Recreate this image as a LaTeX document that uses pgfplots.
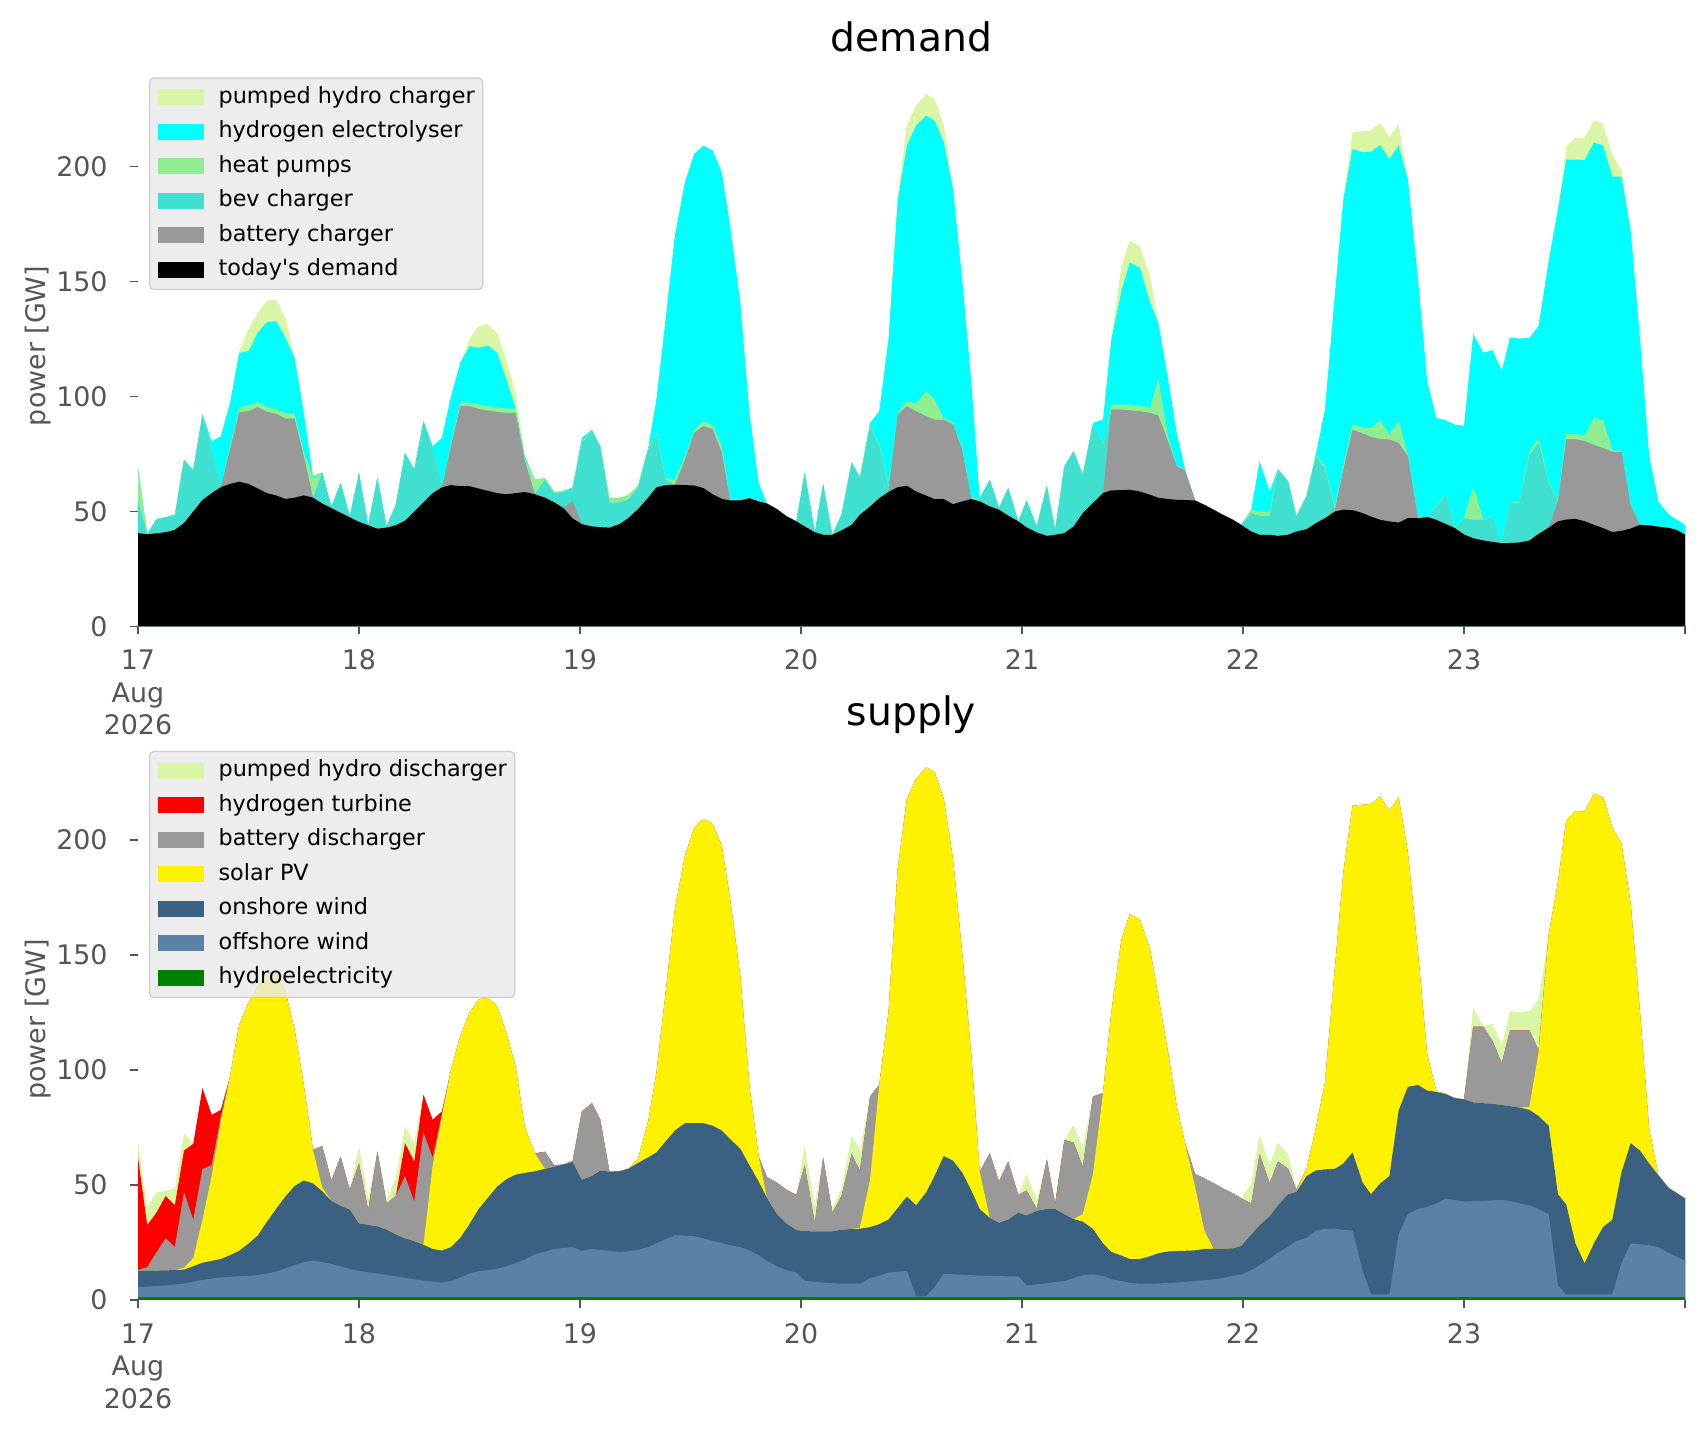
\documentclass[border=0pt]{standalone}
\usepackage{fontspec}
\setmainfont{DejaVu Sans}[Ligatures=TeXOff]
\usepackage{pgfplots}
\usepackage{pgfplotstable}
\pgfplotsset{compat=1.18}

\definecolor{phs}{HTML}{D9F5A6}
\definecolor{ely}{HTML}{00FFFF}
\definecolor{hpc}{HTML}{90EE90}
\definecolor{bevc}{HTML}{40E0D0}
\definecolor{batc}{HTML}{999999}
\definecolor{onw}{HTML}{3B6182}
\definecolor{offw}{HTML}{5B82A6}
\definecolor{hydc}{HTML}{008000}
\definecolor{tickc}{HTML}{555555}
\definecolor{legbg}{HTML}{E8E8E8}
\definecolor{legedge}{HTML}{CCCCCC}

\pgfplotstableread{
h D B V P E T hy of on so ba h2
0 40.6 40.6 55 69 69 69 1.3 5.6 12.7 12.7 13 62
1 40.1 40.1 40.1 40.1 40.1 40.1 1.3 5.8 12.7 12.7 14.3 32.5
2 40.5 40.5 46.7 46.7 46.7 46.7 1.3 6.1 12.8 12.8 20.6 38
3 41 41 47.5 47.5 47.5 47.5 1.3 6.3 12.9 12.9 26.9 45.2
4 42 42 48.6 48.6 48.6 48.6 1.3 6.7 13 13 23 41.2
5 45 45 72.5 72.5 72.5 72.5 1.3 7.1 13.2 14 46.8 65
6 50 50 67.9 67.9 67.9 67.9 1.3 8 14.7 18.2 34.9 67.9
7 55 55 92.2 92.2 92.2 92.2 1.3 8.7 16.2 34.9 57 92.2
8 58 58 77 77 80.5 80.5 1.3 9.3 17 54 58.6 80.5
9 60.6 60.6 60.6 60.6 82.7 82.7 1.3 9.8 17.8 77.7 80 82.7
10 62 77 77 78.5 97.3 97.3 1.3 10 19.5 97.3 97.3 97.3
11 63 93.2 93.2 95.4 119 119.8 1.3 10.3 21.4 119.8 119.8 119.8
12 62 93.6 93.6 96 119.8 129.2 1.3 10.5 24.5 129.2 129.2 129.2
13 60 95.4 95.4 97.6 127.8 136.5 1.3 10.8 28 136.5 136.5 136.5
14 58 93.3 93.3 95.5 132.4 141.6 1.3 11.5 34 141.6 141.6 141.6
15 57 92.5 92.5 94.5 132.9 142.3 1.3 12.4 39.6 142.3 142.3 142.3
16 55.5 90.4 90.4 92.6 125.6 134.3 1.3 13.7 45 134.3 134.3 134.3
17 56 90.4 90.4 92.6 116.9 117.6 1.3 15.1 49.5 117.6 117.6 117.6
18 57 74 74 76 92.9 93.5 1.3 16.5 52 93.5 93.5 93.5
19 56 56 56 64.6 65.3 65.3 1.3 17.1 50.7 65.3 65.3 65.3
20 53.5 53.5 67 67 67 67 1.3 16.5 47.3 49 67 67
21 51.5 51.5 52 52 52 52 1.3 15.7 43.1 43.1 52 52
22 49.5 49.5 62.4 62.4 62.4 62.4 1.3 14.6 41 41 62.4 62.4
23 47.5 47.5 47.9 47.9 47.9 47.9 1.3 13.5 39.3 39.3 47.9 47.9
24 45.5 45.5 66.7 66.7 66.7 66.7 1.3 12.7 33.3 33.3 59.4 59.4
25 44 44 44 44 44 44 1.3 12 32.7 32.7 39 39
26 42.5 42.5 64.6 64.6 64.6 64.6 1.3 11.5 32 32 64.6 64.6
27 43 43 43.5 43.5 43.5 43.5 1.3 10.9 30.6 30.6 42 42
28 44 44 53 53 53 53 1.3 10.3 28.5 28.5 45.2 45.2
29 46 46 75.5 75.5 75.5 75.5 1.3 9.6 26.8 26.8 53.9 68.2
30 50 50 68.2 68.2 68.2 68.2 1.3 9 25.6 25.6 42.8 60.2
31 54 54 89.3 89.3 89.3 89.3 1.3 8.4 24 24 72.9 89.3
32 58 58 77.6 77.6 78.4 78.4 1.3 8 22.2 58.6 61.8 78.4
33 60.5 60.5 60.9 60.9 82 82 1.3 7.6 21.5 80 81 82
34 61.5 78.4 78.4 79.5 100.2 100.2 1.3 8.2 23 100.2 100.2 100.2
35 61 95.8 95.8 97.5 114.7 114.7 1.3 9.8 27 114.7 114.7 114.7
36 61 95.8 95.8 97.5 121.9 124.9 1.3 11.5 33 124.9 124.9 124.9
37 60 94.6 94.6 96.5 121.2 130.7 1.3 12.5 39.6 130.7 130.7 130.7
38 59 93.9 93.9 95.8 122.2 131.4 1.3 13 44.5 131.4 131.4 131.4
39 58 93.3 93.3 95.2 119 127.8 1.3 13.5 49.3 127.8 127.8 127.8
40 57.5 92.9 92.9 94.8 107.4 116.1 1.3 14.7 52.5 116.1 116.1 116.1
41 58 92.9 92.9 94.8 95.1 101.6 1.3 16 54.5 101.6 101.6 101.6
42 58.5 72 72 73 74 75 1.3 17.5 55.3 75 75 75
43.1 57.5 57.5 57.5 63.8 63.8 63.8 1.3 19.8 56 63.8 63.8 63.8
44.2 56 56 63.8 64.5 64.5 64.5 1.3 21 57 57 64.5 64.5
45.2 54 54 58 58.5 58.5 58.5 1.3 22.2 58 58 58.5 58.5
46.2 51.5 51.5 58.5 59 59 59 1.3 22.6 59 59 59 59
47.2 47 54.5 60.2 60.5 60.5 60.5 1.3 23 60 60 60.5 60.5
48.2 44.5 44.5 79.8 80.5 82 82 1.3 21.4 52.3 52.3 82 82
49.3 43.5 43.5 85 85.2 85.6 85.6 1.3 22.2 54 54 85.6 85.6
50.2 43.2 43.2 78 78.5 78.5 78.5 1.3 21.8 56.3 56.3 78.5 78.5
51.2 43 43 53.7 55.8 55.8 55.8 1.3 21.4 55.8 55.8 55.8 55.8
52.3 44.5 44.5 54 56 56 56 1.3 20.9 56 56 56 56
53.2 47 47 55 57 57 57 1.3 21.2 57 57 57 57
54.3 51 51 60.2 61.2 61.2 61.2 1.3 21.8 59.6 61.2 61.2 61.2
55.4 56 56 76.9 77.5 77.5 77.5 1.3 23 62 77.5 77.5 77.5
56.3 60.5 60.5 83.4 84 98.7 98.7 1.3 24.6 64.2 98.7 98.7 98.7
57.3 61.5 61.5 63.8 64.5 133.6 133.6 1.3 26.5 69 133.6 133.6 133.6
58.3 61.6 61.6 61.6 64 169.9 169.9 1.3 28.2 73.7 169.9 169.9 169.9
59.4 61.5 72.5 72.5 74 193.2 193.2 1.3 28 76.9 193.2 193.2 193.2
60.4 61.3 84.2 84.2 85.5 205.5 205.5 1.3 27.7 76.9 205.5 205.5 205.5
61.4 60.2 87.1 87.1 89.3 209.1 209.1 1.3 26.8 76.9 209.1 209.1 209.1
62.4 57.5 85.9 85.9 87.5 207 207 1.3 25.7 75.8 207 207 207
63.4 55.5 75.5 75.5 78.4 197.5 197.5 1.3 24.8 73.7 197.5 197.5 197.5
64.3 54.8 54.8 54.8 55.5 174.3 174.3 1.3 23.8 70 174.3 174.3 174.3
65.4 54.8 54.8 54.8 55 140.8 140.8 1.3 23 65.8 140.8 140.8 140.8
66.4 55.8 55.8 55.8 56 92.9 92.9 1.3 21.5 58.6 92.9 92.9 92.9
67.4 54.4 54.4 54.4 54.6 62.4 62.4 1.3 19.5 51.5 62.4 62.4 62.4
68.3 53.5 53.5 53.5 53.5 53.5 53.5 1.3 17 44.4 44.4 53.5 53.5
69.4 51 51 51 51 51 51 1.3 14.6 37.3 37.3 51 51
70.4 48 48 48 48 48 48 1.3 13 33.3 33.3 48 48
71.5 45.7 45.7 45.7 45.7 45.7 45.7 1.3 11.9 30.4 30.4 45.7 45.7
72.4 43.5 43.5 67 67 67 67 1.3 8.3 30 30 58.6 58.6
73.5 41 41 41 41 41 41 1.3 7.9 29.8 29.8 33.3 33.3
74.4 39.9 39.9 62 62 62 62 1.3 7.6 29.8 29.8 62 62
75.4 39.9 39.9 39.9 39.9 39.9 39.9 1.3 7.3 29.9 29.9 38 38
76.4 41.8 41.8 48.6 48.6 48.6 48.6 1.3 7.1 30.5 30.5 45.2 45.2
77.5 44.2 44.2 71.4 71.4 71.4 71.4 1.3 7.1 30.9 30.9 63.4 63.4
78.4 48.6 48.6 64.6 65 65 65 1.3 7.1 31 31.5 56.3 56.3
79.5 52.2 52.2 87.1 87.5 88.5 88.5 1.3 9.5 31.7 52.3 88.5 88.5
80.5 55.8 55.8 78.4 79 93.6 93.6 1.3 10.5 33 93.6 93.6 93.6
81.5 58.5 58.5 60.2 61 124.9 124.9 1.3 11.9 35 124.9 124.9 124.9
82.5 60.6 92.2 92.2 92.9 185.2 187.3 1.3 12.3 40 187.3 187.3 187.3
83.5 61.2 95.8 95.8 98 209.1 217.9 1.3 12.7 45 217.9 217.9 217.9
84.5 58.7 93.6 93.6 97 217.9 226.6 1.3 1.6 41.2 226.6 226.6 226.6
85.6 56.9 91.4 91.4 102.3 222.2 231.7 1.3 1.6 46.8 231.7 231.7 231.7
86.5 55.4 89.9 89.9 98.7 220 229.5 1.3 5.6 53.9 229.5 229.5 229.5
87.5 55.4 89.9 89.9 90.7 210.6 217.9 1.3 11.4 62.6 217.9 217.9 217.9
88.5 53.2 87.8 87.8 88.5 190.2 191.7 1.3 11.2 60.6 191.7 191.7 191.7
89.5 54.4 76.9 76.9 77.5 151 151 1.3 11 55.5 151 151 151
90.5 55.4 55.4 55.4 55.8 106 106 1.3 10.8 47.6 106 106 106
91.4 54.4 54.4 55.8 55.8 55.8 55.8 1.3 10.6 39.6 55.8 55.8 55.8
92.5 52.2 52.2 63.8 63.8 63.8 63.8 1.3 10.5 35.7 35.7 63.8 63.8
93.5 50.8 50.8 51.5 51.5 51.5 51.5 1.3 10.4 33.6 33.6 51.5 51.5
94.5 48.2 48.2 60.2 60.2 60.2 60.2 1.3 10.3 35 35 60.2 60.2
95.6 45.7 45.7 45.7 45.7 45.7 45.7 1.3 10.3 38 38 45.7 45.7
96.5 43.1 43.1 54.8 54.8 54.8 54.8 1.3 6.3 36.8 36.8 47.6 47.6
97.6 40.9 40.9 43.5 43.5 43.5 43.5 1.3 6.8 38.8 38.8 39.6 39.6
98.7 39.4 39.4 61.2 61.2 61.2 61.2 1.3 7.3 39.6 39.6 61.2 61.2
99.6 39.9 39.9 42 42 42 42 1.3 7.8 39.6 39.6 42 42
100.6 40.6 40.6 69.6 69.6 69.6 69.6 1.3 8.2 37.3 37.3 69.6 69.6
101.6 43.5 43.5 76.2 76.2 76.2 76.2 1.3 9.5 35.2 35.2 68.5 68.5
102.6 49.3 49.3 66 66 66 66 1.3 10.8 34.1 37.3 57.9 57.9
103.7 53.7 53.7 87.8 88 88.5 88.5 1.3 11.1 30.9 54.7 88.5 88.5
104.8 58 58 79.1 79.5 90 90 1.3 10.5 24.6 90 90 90
105.7 59.2 94.3 94.3 96.5 124.9 124.9 1.3 9 20.9 124.9 124.9 124.9
106.8 59.3 94.3 94.3 96.5 145.9 156.8 1.3 8.2 19.3 156.8 156.8 156.8
107.7 59.5 94 94 96.5 158.3 167.7 1.3 7.5 17.8 167.7 167.7 167.7
108.8 58.7 93.6 93.6 96 156.1 165.5 1.3 7.1 17.8 165.5 165.5 165.5
109.9 57.3 92.9 92.9 95.1 140.8 152.5 1.3 7.1 19 152.5 152.5 152.5
110.8 56 91.7 91.7 107.4 132.1 132.1 1.3 7.2 20.3 132.1 132.1 132.1
111.9 55.4 80 80 82 106.7 106.7 1.3 7.4 21.1 106.7 106.7 106.7
112.8 55.1 69.6 69.6 70 84.2 84.2 1.3 7.6 21.3 84.2 84.2 84.2
113.7 55 67.9 67.9 68.2 68.2 68.2 1.3 7.9 21.4 68.2 68.2 68.2
114.8 54.8 54.8 54.8 54.8 54.8 54.8 1.3 8.2 21.6 49.1 54.8 54.8
115.8 52.9 52.9 52.9 52.9 52.9 52.9 1.3 8.6 22.2 30.1 52.9 52.9
116.8 50.8 50.8 50.8 50.8 50.8 50.8 1.3 9 22.3 22.3 50.8 50.8
117.8 48.6 48.6 48.6 48.6 48.6 48.6 1.3 9.5 22.2 22.2 48.6 48.6
118.9 46.4 46.4 46.4 46.4 46.4 46.4 1.3 10.5 22.5 22.5 46.4 46.4
119.8 44.2 44.2 44.2 44.2 44.2 44.2 1.3 11.1 23.5 23.5 44.2 44.2
120.9 41.3 41.3 49.3 50.8 50.8 50.8 1.3 13 28.5 28.5 42 42
121.8 39.9 39.9 48 50 71.8 71.8 1.3 15.1 32.5 32.5 63.4 63.4
122.9 39.9 39.9 48 50 58.7 58.7 1.3 18 36.5 36.5 50.7 50.7
123.8 39.4 39.4 68.2 68.5 68.5 68.5 1.3 20.6 41.2 41.2 60.2 60.2
124.9 39.9 39.9 63.1 63.1 63.1 63.1 1.3 23.2 46 46 57.1 57.1
125.8 41.3 41.3 47.8 48 48 48 1.3 25.7 47 47 48 48
126.9 42.3 42.3 56.6 57 57 57 1.3 27 53.9 57 57 57
127.9 44.9 44.9 74 74.5 74.5 74.5 1.3 30.1 56.3 74.5 74.5 74.5
128.9 47.1 47.1 68.9 70 94.3 94.3 1.3 30.9 56.8 94.3 94.3 94.3
130 50 50.8 50.8 52 145.2 145.2 1.3 31 57.1 145.2 145.2 145.2
130.9 50.8 68.2 68.2 70 185.9 185.9 1.3 30.5 59.4 185.9 185.9 185.9
131.9 50.6 85.6 85.6 87.8 207.7 215 1.3 30.1 64.2 215 215 215
133 49.3 83.9 83.9 86.4 206.2 215.4 1.3 12.7 51 215.4 215.4 215.4
133.9 47.8 82.4 82.4 86.4 206.5 215.7 1.3 2.4 46 215.7 215.7 215.7
134.9 46.4 81.5 81.5 89.7 209.4 219 1.3 2.4 50.7 219 219 219
135.9 45.7 81.3 81.3 83.5 203.3 212.8 1.3 2.4 53.9 212.8 212.8 212.8
136.9 45.2 79.8 79.8 89.3 209.1 218.6 1.3 28.5 82.4 218.6 218.6 218.6
137.9 47.1 74 74 74.5 194.6 194.6 1.3 37.3 92.7 194.6 194.6 194.6
139 47.1 47.1 47.1 47.5 151 151 1.3 39.6 93.5 151 151 151
140 47.6 47.6 47.6 47.6 106.7 106.7 1.3 40.4 91.1 106.7 106.7 106.7
141 46.4 46.4 52.2 52.5 90.7 90.7 1.3 42 90.5 90.7 90.7 90.7
142 44.6 44.6 57.3 57.5 89.7 89.7 1.3 44.1 89.6 89.7 89.7 89.7
143 42.8 42.8 42.8 43 87.8 87.8 1.3 43.5 87.8 87.8 87.8 87.8
144 40 40 47.1 47.3 87.3 87.3 1.3 42.8 87.3 87.3 87.3 87.3
145 38.4 38.4 46.4 61 127.1 127.1 1.3 43 85.9 85.9 118.9 118.9
146.1 37.4 37.4 46.4 46.6 119 119 1.3 43.1 85.6 85.6 118.9 118.9
147.1 36.8 36.8 47.6 47.8 120.2 120.2 1.3 43.3 85.3 85.3 112.5 112.5
148.1 36.2 36.2 36.2 36.2 111.1 111.1 1.3 43.6 84.8 84.8 103 103
149 36.3 36.3 53.7 54 125.6 125.6 1.3 43 84.3 84.3 117.3 117.3
150 36.5 36.5 53.5 54 125.2 125.2 1.3 42 83.7 83.7 117.3 117.3
151.1 37.4 37.4 74.7 76 125.6 125.6 1.3 41.2 82.7 84 117.3 117.3
152.1 40.3 40.3 79.8 82 130.7 130.7 1.3 39.5 80 107.8 108.6 108.6
153.2 43 43 62.4 63 159 159 1.3 37.3 75.8 159 159 159
154.2 45.7 54.3 54.3 55 181.4 181.4 1.3 6.3 46 181.4 181.4 181.4
155.1 46.5 81.4 81.4 83.7 203.1 208.5 1.3 2.4 41.5 208.5 208.5 208.5
156.1 46.8 81.4 81.4 83.7 203.1 212.7 1.3 2.4 24.6 212.7 212.7 212.7
157.1 45.8 80.6 80.6 83 202.8 212.4 1.3 2.4 15.9 212.4 212.4 212.4
158.1 44.2 79 79 90.7 210.5 220.2 1.3 2.4 24.6 220.2 220.2 220.2
159.1 42.8 77.5 77.5 89.9 209.3 218.6 1.3 2.4 31.7 218.6 218.6 218.6
160.1 41.1 76 76 76.5 195.7 205.4 1.3 2.4 34.9 205.4 205.4 205.4
161.1 41.6 76 76 76.5 195.7 198.4 1.3 15.9 55.5 198.4 198.4 198.4
162.1 42.6 52.7 52.7 53 172.1 172.1 1.3 24.6 68.2 172.1 172.1 172.1
163.1 44.2 44.2 44.2 44.2 125.6 125.6 1.3 24.2 65 125.6 125.6 125.6
164.1 44 44 44 44 74.4 74.4 1.3 23.8 59.4 74.4 74.4 74.4
165.1 43.4 43.4 43.4 43.4 54.3 54.3 1.3 23 54.3 54.3 54.3 54.3
166.2 42.9 42.9 42.9 42.9 48.8 48.8 1.3 20.6 48.8 48.8 48.8 48.8
167.1 42 42 42 42 46.5 46.5 1.3 18.8 46.5 46.5 46.5 46.5
168 40 40 40 40 44.2 44.2 1.3 17.1 44.2 44.2 44.2 44.2
}\tab

\pgfplotsset{
  panel/.style={
    scale only axis, width=773.5bp, height=280.5bp,
    xmin=0, xmax=168, ymin=0, ymax=244,
    axis x line=bottom, axis y line=left,
    axis line style={draw=none,-},
    tick align=outside, major tick length=4bp,
    tick style={draw=tickc, line width=0.8bp},
    xtick={0,24,...,168}, ytick={0,50,100,150,200},
    xticklabels={{17\\Aug\\2026},18,19,20,21,22,23,{}},
    /pgf/number format/assume math mode=true,
    ticklabel style={font=\fontsize{13.5}{16.4}\selectfont, text=tickc},
    xticklabel style={align=center, anchor=north, inner sep=0pt, yshift=-7.5bp},
    yticklabel style={anchor=east, inner sep=0pt, xshift=-11bp},
    ylabel={power [GW]},
    ylabel style={at={(axis description cs:-0.0646,0.5)}, anchor=center, font=\fontsize{13.5}{16}\selectfont, text=tickc},
    title style={at={(axis description cs:0.5,1)}, anchor=base, yshift=1bp, font=\fontsize{19.7}{23}\selectfont},
    legend cell align=left,
    legend image code/.code={\fill[##1, fill opacity=1, sharp corners] (0bp,-4bp) rectangle (23bp,4bp);},
    legend style={at={(axis description cs:0,1)}, anchor=north west, xshift=5.5bp, yshift=-6bp,
      fill=legbg, fill opacity=0.8, draw opacity=1, text opacity=1, draw=legedge, line width=0.6bp,
      rounded corners=2bp, font=\fontsize{11.2}{13}\selectfont, text=black,
      inner xsep=4bp, inner ysep=4.3bp, row sep=6.45bp,
      nodes={inner sep=0pt, text height=8.3bp, text depth=2.5bp},
      /tikz/every odd column/.append style={column sep=7.5bp}},
    every axis plot/.append style={draw=none},
  }
}

\begin{document}
\begin{tikzpicture}
\path[use as bounding box] (0bp,0bp) rectangle (853bp,715.5bp);
\begin{axis}[panel, at={(69bp,402.25bp)}, anchor=south west, title={demand}]
\addplot[fill=phs] table[x=h,y=T]{\tab} \closedcycle;
\addlegendentry{pumped hydro charger}
\addplot[fill=ely] table[x=h,y=E]{\tab} \closedcycle;
\addlegendentry{hydrogen electrolyser}
\addplot[fill=hpc] table[x=h,y=P]{\tab} \closedcycle;
\addlegendentry{heat pumps}
\addplot[fill=bevc] table[x=h,y=V]{\tab} \closedcycle;
\addlegendentry{bev charger}
\addplot[fill=batc] table[x=h,y=B]{\tab} \closedcycle;
\addlegendentry{battery charger}
\addplot[fill=black] table[x=h,y=D]{\tab} \closedcycle;
\addlegendentry{today's demand}
\end{axis}
\begin{axis}[panel, at={(69bp,65.5bp)}, anchor=south west, title={supply}]
\addplot[fill=phs] table[x=h,y=T]{\tab} \closedcycle;
\addlegendentry{pumped hydro discharger}
\addplot[fill=red] table[x=h,y=h2]{\tab} \closedcycle;
\addlegendentry{hydrogen turbine}
\addplot[fill=batc] table[x=h,y=ba]{\tab} \closedcycle;
\addlegendentry{battery discharger}
\addplot[fill=yellow] table[x=h,y=so]{\tab} \closedcycle;
\addlegendentry{solar PV}
\addplot[fill=onw] table[x=h,y=on]{\tab} \closedcycle;
\addlegendentry{onshore wind}
\addplot[fill=offw] table[x=h,y=of]{\tab} \closedcycle;
\addlegendentry{offshore wind}
\addplot[fill=hydc] table[x=h,y=hy]{\tab} \closedcycle;
\addlegendentry{hydroelectricity}
\end{axis}
\end{tikzpicture}
\end{document}
